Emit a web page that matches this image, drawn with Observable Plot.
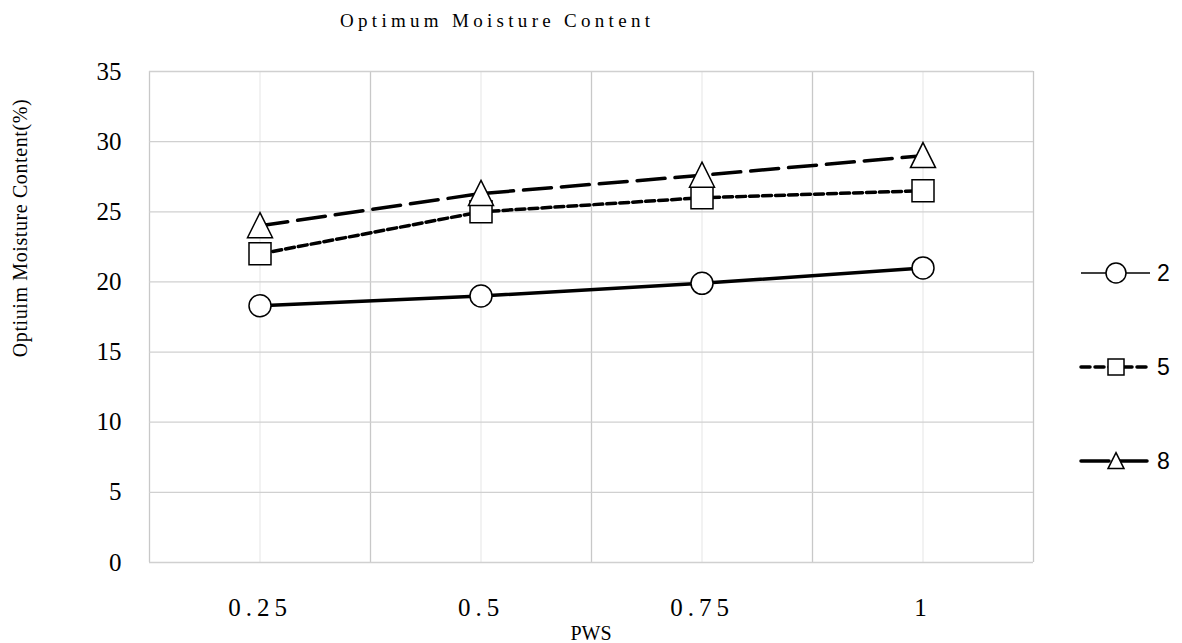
<!DOCTYPE html>
<html>
<head>
<meta charset="utf-8">
<script src="https://cdn.jsdelivr.net/npm/d3@7"></script>
<script src="https://cdn.jsdelivr.net/npm/@observablehq/plot@0.6"></script>
<style>
  html, body { margin: 0; padding: 0; background: #fff; }
  #wrap { position: relative; width: 1182px; height: 643px; }
  #wrap svg { position: absolute; left: 0; top: 0; }
  g[aria-label="y-axis tick label"] text { font-family: "Liberation Serif", serif; font-size: 25px; fill: #000; }
  g[aria-label="x-axis tick label"] text { font-family: "Liberation Serif", serif; font-size: 25px; letter-spacing: 5px; fill: #000; }
</style>
</head>
<body>
<div id="wrap"></div>
<script>
// ---- data ----
const pws = [0.25, 0.5, 0.75, 1];
const xTickLabels = ["0.25", "0.5", "0.75", "1"];
const series2 = [18.3, 19, 19.9, 21];
const series5 = [22, 25, 26, 26.5];
const series8 = [24, 26.3, 27.6, 29];
const seriesNames = ["2", "5", "8"];
const yTicks = [0, 5, 10, 15, 20, 25, 30, 35];
const titleText = "Optimum Moisture Content";
const yLabelText = "Optiuim Moisture Content(%)";
const xLabelText = "PWS";

// ---- build ----
const half = (pws[1] - pws[0]) / 2;
const boundaries = pws.map(p => p - half).concat([pws[pws.length - 1] + half]);
const rows = (vals, name) => pws.map((p, i) => ({pws: p, value: vals[i], series: name}));
const d2 = rows(series2, seriesNames[0]);
const d5 = rows(series5, seriesNames[1]);
const d8 = rows(series8, seriesNames[2]);

const triangle = {
  draw(context, size) {
    const r = Math.sqrt(size / Math.PI);
    context.moveTo(0, -r * 1.05);
    context.lineTo(r, r * 0.95);
    context.lineTo(-r, r * 0.95);
    context.closePath();
  }
};
const square = {
  draw(context, size) {
    const r = Math.sqrt(size / Math.PI);
    context.rect(-r, -r, 2 * r, 2 * r);
  }
};

const styles = [
  {data: d2, dash: null, width: 3.5, symbol: "circle", r: 11, legendWidth: 1.5, legendR: 10, legendDash: null},
  {data: d5, dash: "9,4", width: 3.5, symbol: square, r: 11, legendWidth: 3.5, legendR: 8, legendDash: "9,5"},
  {data: d8, dash: "28,10", width: 3.5, symbol: triangle, r: 12.5, legendWidth: 3.5, legendR: 8, legendDash: "28,10"}
];

const W = 1182, H = 643;
const chart = Plot.plot({
  width: W,
  height: H,
  marginLeft: 149,
  marginRight: 149,
  marginTop: 71,
  marginBottom: 81,
  x: {type: "linear", domain: [boundaries[0], boundaries[boundaries.length - 1]]},
  y: {domain: [0, 35]},
  style: {background: "transparent", color: "#000"},
  marks: [
    Plot.ruleX(pws, {stroke: "#ebebeb", strokeWidth: 1.3}),
    Plot.ruleX(boundaries, {stroke: "#c8c8c8", strokeWidth: 1.3}),
    Plot.ruleY(yTicks, {stroke: "#d0d0d0", strokeWidth: 1.3}),
    Plot.axisY({ticks: yTicks, tickSize: 0, tickPadding: 28, label: null}),
    Plot.axisX({ticks: pws, tickSize: 0, tickPadding: 36, label: null,
      tickFormat: d => xTickLabels[pws.indexOf(d)]}),
    ...styles.map(s => Plot.line(s.data, {x: "pws", y: "value", stroke: "#000",
      strokeWidth: s.width, strokeDasharray: s.dash, strokeLinejoin: "round"})),
    ...styles.map(s => Plot.dot(s.data, {x: "pws", y: "value", symbol: s.symbol, r: s.r,
      fill: "#fff", stroke: "#000", strokeWidth: 1.5}))
  ]
});

const wrap = document.getElementById("wrap");
wrap.appendChild(chart);

// ---- overlay: title, axis titles, legend ----
const ov = d3.select(wrap).append("svg")
  .attr("width", W).attr("height", H)
  .style("pointer-events", "none");

ov.append("text")
  .attr("x", 340).attr("y", 27)
  .attr("font-family", "Liberation Serif, serif")
  .attr("font-size", 19)
  .attr("letter-spacing", "4.3px")
  .text(titleText);

ov.append("text")
  .attr("transform", "translate(27,228) rotate(-90)")
  .attr("text-anchor", "middle")
  .attr("font-family", "Liberation Serif, serif")
  .attr("font-size", 20)
  .attr("letter-spacing", "0.6px")
  .text(yLabelText);

ov.append("text")
  .attr("x", 591).attr("y", 640)
  .attr("text-anchor", "middle")
  .attr("font-family", "Liberation Serif, serif")
  .attr("font-size", 20)
  .text(xLabelText);

const legendY = [273, 367, 461];
styles.forEach((s, i) => {
  const g = ov.append("g").attr("transform", `translate(0,${legendY[i]})`);
  g.append("line")
    .attr("x1", 1081).attr("x2", 1150).attr("y1", 0).attr("y2", 0)
    .attr("stroke", "#000").attr("stroke-width", s.legendWidth)
    .attr("stroke-dasharray", s.legendDash)
    .attr("stroke-linecap", s.legendDash ? "round" : "butt");
  const sym = typeof s.symbol === "string" ? d3.symbolCircle : s.symbol;
  g.append("path")
    .attr("transform", "translate(1116,0)")
    .attr("d", d3.symbol().type(sym).size(Math.PI * s.legendR * s.legendR)())
    .attr("fill", "#fff").attr("stroke", "#000").attr("stroke-width", 1.5);
  g.append("text")
    .attr("x", 1157).attr("y", 0).attr("dy", "0.35em")
    .attr("font-family", "Liberation Sans, sans-serif")
    .attr("font-size", 23)
    .text(seriesNames[i]);
});
</script>
</body>
</html>
